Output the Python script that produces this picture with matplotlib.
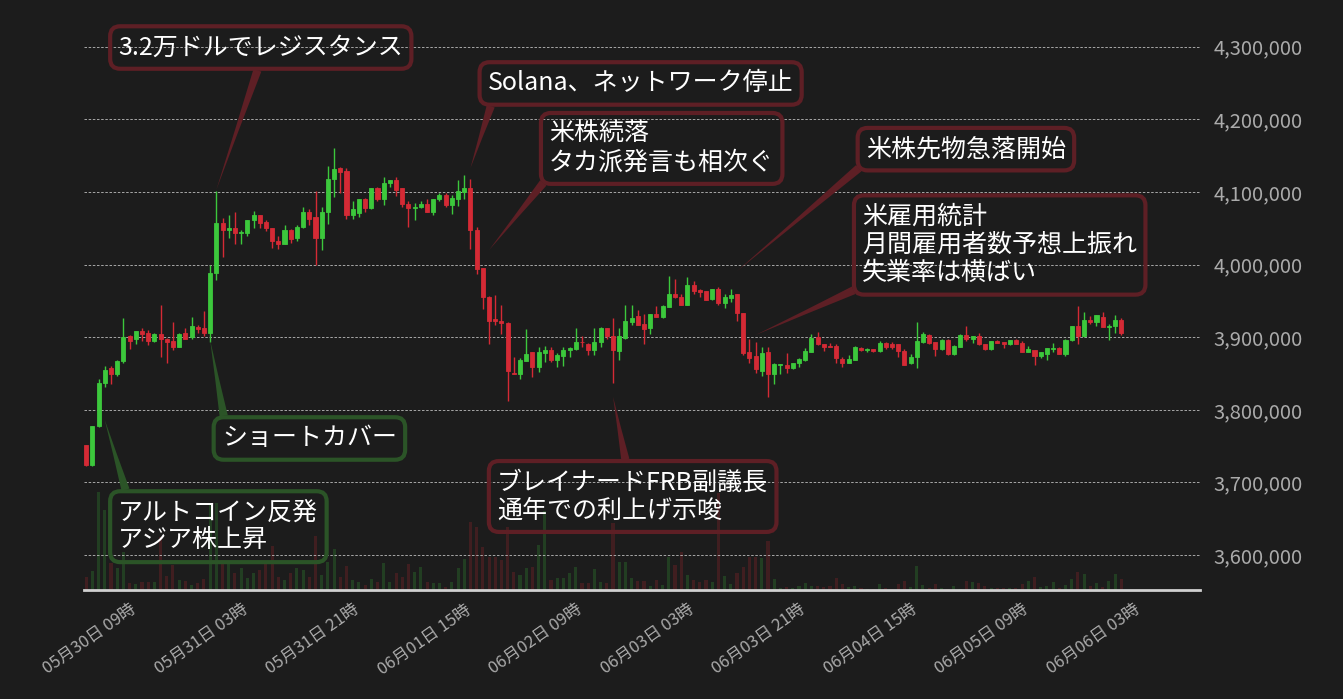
import numpy as np
import pandas as pd
import matplotlib
matplotlib.use('Agg')
from matplotlib import pyplot as plt
from matplotlib.ticker import FuncFormatter, MultipleLocator, FixedLocator

plt.rcParams['font.family'] = ['Noto Sans CJK JP', 'DejaVu Sans']

# BTC/JPY hourly candles from 2022-05-30 02:00 (thousand yen)
opens = [3751, 3724, 3777, 3837, 3858, 3850, 3867, 3902, 3897, 3908, 3906, 3895, 3905, 3898, 3895, 3887,
         3906, 3900, 3914, 3912, 3906, 3989, 4057, 4047, 4050, 4043, 4044, 4061, 4069, 4058, 4051, 4033,
         4029, 4047, 4036, 4052, 4072, 4065, 4037, 4073, 4118, 4133, 4129, 4069, 4071, 4091, 4078, 4105,
         4091, 4112, 4117, 4105, 4083, 4078, 4079, 4084, 4072, 4090, 4096, 4082, 4091, 4100, 4105, 4047,
         3996, 3956, 3925, 3923, 3920, 3851, 3850, 3867, 3879, 3859, 3878, 3883, 3868, 3874, 3882, 3884,
         3894, 3891, 3882, 3893, 3913, 3901, 3881, 3899, 3921, 3929, 3918, 3913, 3932, 3928, 3942, 3960,
         3956, 3944, 3972, 3965, 3963, 3952, 3966, 3947, 3954, 3959, 3934, 3880, 3874, 3853, 3879, 3850,
         3862, 3862, 3857, 3864, 3868, 3880, 3900, 3891, 3888, 3888, 3870, 3865, 3869, 3885, 3883, 3884,
         3881, 3892, 3890, 3890, 3881, 3864, 3873, 3894, 3903, 3894, 3884, 3896, 3877, 3887, 3903, 3898,
         3902, 3891, 3884, 3895, 3894, 3890, 3896, 3892, 3880, 3883, 3874, 3877, 3884, 3885, 3877, 3896,
         3916, 3901, 3924, 3921, 3928, 3914, 3916, 3924]
highs = [3752, 3778, 3842, 3861, 3860, 3868, 3927, 3903, 3909, 3912, 3910, 3906, 3944, 3899, 3921, 3906,
         3912, 3928, 3917, 3936, 3999, 4101, 4064, 4069, 4072, 4047, 4062, 4074, 4069, 4061, 4051, 4039,
         4055, 4049, 4054, 4079, 4077, 4101, 4080, 4136, 4160, 4135, 4133, 4087, 4091, 4092, 4105, 4107,
         4120, 4117, 4120, 4105, 4088, 4085, 4088, 4090, 4091, 4099, 4098, 4096, 4116, 4124, 4118, 4052,
         3996, 3957, 3958, 3944, 3921, 3873, 3871, 3911, 3879, 3886, 3888, 3886, 3878, 3886, 3886, 3912,
         3902, 3892, 3912, 3914, 3913, 3926, 3912, 3944, 3944, 3937, 3932, 3932, 3943, 3944, 3984, 3980,
         3960, 3983, 3977, 3967, 3964, 3967, 3969, 3960, 3966, 3960, 3934, 3897, 3894, 3886, 3886, 3864,
         3863, 3878, 3865, 3872, 3885, 3905, 3907, 3891, 3892, 3891, 3873, 3876, 3888, 3887, 3885, 3884,
         3895, 3894, 3894, 3891, 3884, 3877, 3921, 3907, 3905, 3894, 3897, 3897, 3889, 3905, 3916, 3902,
         3906, 3891, 3895, 3896, 3894, 3896, 3897, 3895, 3888, 3883, 3880, 3885, 3892, 3886, 3898, 3916,
         3943, 3935, 3929, 3931, 3935, 3918, 3931, 3927]
lows = [3722, 3723, 3776, 3831, 3835, 3847, 3865, 3884, 3891, 3895, 3889, 3894, 3873, 3864, 3883, 3886,
        3897, 3898, 3906, 3902, 3894, 3979, 4011, 4036, 4028, 4028, 4039, 4050, 4051, 4046, 4023, 4021,
        4028, 4030, 4032, 4051, 4055, 3999, 4020, 4056, 4093, 4099, 4063, 4063, 4065, 4072, 4077, 4088,
        4082, 4107, 4095, 4080, 4052, 4061, 4078, 4072, 4068, 4087, 4080, 4070, 4081, 4090, 4021, 3987,
        3939, 3890, 3917, 3904, 3812, 3850, 3842, 3867, 3845, 3852, 3866, 3866, 3859, 3860, 3873, 3883,
        3887, 3876, 3875, 3886, 3897, 3837, 3869, 3898, 3917, 3917, 3890, 3904, 3928, 3926, 3941, 3954,
        3944, 3944, 3960, 3956, 3951, 3951, 3945, 3940, 3949, 3923, 3875, 3865, 3851, 3846, 3818, 3835,
        3849, 3851, 3856, 3859, 3867, 3879, 3889, 3881, 3887, 3865, 3859, 3864, 3868, 3881, 3880, 3880,
        3880, 3884, 3884, 3873, 3862, 3863, 3858, 3892, 3891, 3874, 3883, 3876, 3876, 3886, 3895, 3892,
        3889, 3883, 3883, 3892, 3885, 3889, 3891, 3880, 3879, 3862, 3872, 3868, 3880, 3877, 3874, 3895,
        3890, 3900, 3918, 3916, 3914, 3896, 3906, 3903]
closes = [3724, 3777, 3837, 3855, 3850, 3867, 3900, 3895, 3908, 3905, 3895, 3904, 3897, 3894, 3886, 3905,
          3898, 3916, 3911, 3906, 3989, 4057, 4047, 4051, 4043, 4045, 4061, 4069, 4057, 4050, 4032, 4029,
          4047, 4035, 4052, 4072, 4063, 4037, 4073, 4118, 4132, 4127, 4069, 4076, 4090, 4078, 4105, 4090,
          4113, 4117, 4103, 4083, 4078, 4080, 4083, 4072, 4091, 4096, 4082, 4092, 4101, 4105, 4047, 3994,
          3955, 3922, 3922, 3920, 3853, 3850, 3868, 3877, 3859, 3880, 3883, 3868, 3875, 3883, 3885, 3894,
          3893, 3882, 3894, 3912, 3901, 3883, 3901, 3922, 3926, 3917, 3911, 3932, 3928, 3943, 3960, 3955,
          3944, 3972, 3963, 3962, 3951, 3967, 3947, 3956, 3958, 3933, 3878, 3872, 3856, 3878, 3850, 3863,
          3863, 3858, 3864, 3870, 3881, 3899, 3890, 3887, 3887, 3872, 3865, 3870, 3887, 3883, 3884, 3881,
          3892, 3887, 3887, 3881, 3862, 3873, 3895, 3905, 3892, 3884, 3896, 3877, 3888, 3903, 3898, 3902,
          3890, 3884, 3895, 3892, 3890, 3896, 3891, 3880, 3884, 3874, 3879, 3885, 3885, 3877, 3896, 3916,
          3901, 3924, 3921, 3931, 3914, 3916, 3924, 3906]
volumes = [130, 190, 980, 800, 270, 220, 380, 70, 60, 80, 80, 80, 530, 140, 250, 100,
           90, 50, 70, 110, 870, 870, 300, 270, 170, 220, 120, 170, 200, 280, 440, 130,
           100, 170, 220, 200, 130, 540, 150, 280, 410, 130, 240, 100, 80, 50, 110, 80,
           270, 80, 170, 130, 260, 180, 230, 80, 70, 70, 30, 80, 220, 310, 680, 630,
           430, 330, 330, 300, 630, 180, 150, 220, 230, 450, 790, 100, 120, 120, 170, 230,
           70, 70, 210, 80, 70, 670, 280, 280, 120, 90, 90, 40, 100, 50, 330, 250,
           380, 150, 100, 80, 100, 80, 970, 140, 60, 170, 230, 330, 330, 320, 490, 110,
           20, 30, 20, 40, 70, 40, 40, 30, 40, 120, 60, 30, 40, 20, 10, 10,
           60, 20, 10, 60, 90, 30, 240, 50, 20, 60, 20, 10, 40, 10, 90, 80,
           70, 40, 20, 20, 20, 20, 20, 60, 90, 130, 30, 40, 80, 20, 50, 110,
           180, 160, 40, 70, 30, 90, 160, 110]

# news annotations: text, candle index, price (thousand yen) pointed at
event_labels = ['3.2万ドルでレジスタンス', 'Solana、ネットワーク停止', '米株続落\nタカ派発言も相次ぐ',
                '米株先物急落開始', '米雇用統計\n月間雇用者数予想上振れ\n失業率は横ばい',
                'ブレイナードFRB副議長\n通年での利上げ示唆', 'ショートカバー', 'アルトコイン反発\nアジア株上昇']
event_idx = [21, 62, 65, 105, 108, 85, 20, 3]
event_price = [4103, 4133, 4020, 3991, 3903, 3818, 3896, 3786]
event_up = [False, False, False, False, False, False, True, True]

BG = '#1c1c1c'
GREEN = '#3cc83c'
RED = '#d42a35'

o = np.array(opens) * 1000
h = np.array(highs) * 1000
l = np.array(lows) * 1000
c = np.array(closes) * 1000
x = np.arange(len(o))
times = pd.date_range('2022-05-30 02:00', periods=len(o), freq='h')
col = np.where(c >= o, GREEN, RED)

fig = plt.figure(figsize=(13.43, 6.99), dpi=100, facecolor=BG)
ax = fig.add_axes([84 / 1343, 109 / 699, 1116 / 1343, 570 / 699])
ax_v = ax.twinx()
ax.set_zorder(ax_v.get_zorder() + 1)
ax.patch.set_visible(False)
ax_v.set_facecolor(BG)

# volume at the bottom
ax_v.bar(x, volumes, width=0.5, color=col, alpha=0.2, linewidth=0)
ax_v.set_ylim(0, max(volumes) * 5.8)
ax_v.set_yticks([])
for s in ax_v.spines.values():
    s.set_visible(False)

# candles
ax.vlines(x, l, h, colors=col, linewidth=1, zorder=3)
ax.bar(x, np.abs(c - o), bottom=np.minimum(o, c), width=0.65, color=col,
       edgecolor=col, linewidth=0.6, zorder=4)

ax.set_xlim(-0.35, 179.7)
ax.set_ylim(3551800, 4336900)
ax.yaxis.tick_right()
ax.yaxis.set_major_locator(MultipleLocator(100000))
ax.yaxis.set_major_formatter(FuncFormatter(lambda v, p: f'{v:,.0f}'))
ax.grid(axis='y', color='#bdbdbd', linestyle=(0, (3, 2)), linewidth=0.6)
ax.tick_params(axis='y', length=0, pad=10, labelcolor='#ababab', labelsize=14.5)

tick_times = pd.date_range('2022-05-30 09:00', periods=10, freq='18h')
tick_pos = (tick_times - times[0]) / pd.Timedelta(hours=1)
ax.xaxis.set_major_locator(FixedLocator(tick_pos))
ax.set_xticklabels([t.strftime('%m月%d日 %H時') for t in tick_times], rotation=35,
                   ha='right', rotation_mode='anchor', color='#ababab', fontsize=12)
ax.tick_params(axis='x', length=0, pad=8)

for k in ['top', 'left', 'right']:
    ax.spines[k].set_visible(False)
ax.spines['bottom'].set_color('#d0d0d0')
ax.spines['bottom'].set_linewidth(2)

# annotation boxes: text left edge (candle index), vertical centre (thousand yen), arrow start
layout = [(5.2, 4299, (0.5, 0)), (64.8, 4249.5, (0.02, 0)), (74.7, 4160, (0, 0)),
          (125.8, 4159, (0, 0)), (125.2, 4027, (0, 0)), (66.3, 3680.6, (0.48, 1)),
          (21.9, 3760.5, (0.02, 1)), (5.2, 3639, (0.05, 1))]
for txt, xi, py, up, (tx, ty, rp) in zip(event_labels, event_idx, event_price, event_up, layout):
    ec = '#2b5427' if up else '#5e1f25'
    ax.annotate(txt, xy=(xi, py * 1000), xytext=(tx, ty * 1000), color='white', fontsize=18,
                ha='left', va='center', linespacing=1.12, zorder=10,
                bbox=dict(boxstyle='round,pad=0.33,rounding_size=0.4', fc='none', ec=ec, lw=3),
                arrowprops=dict(arrowstyle='wedge,tail_width=0.33,shrink_factor=0.45', fc=ec, ec=ec,
                                lw=0, relpos=rp, shrinkA=0, shrinkB=0))

fig.savefig('out.png', dpi=100, facecolor=BG)
